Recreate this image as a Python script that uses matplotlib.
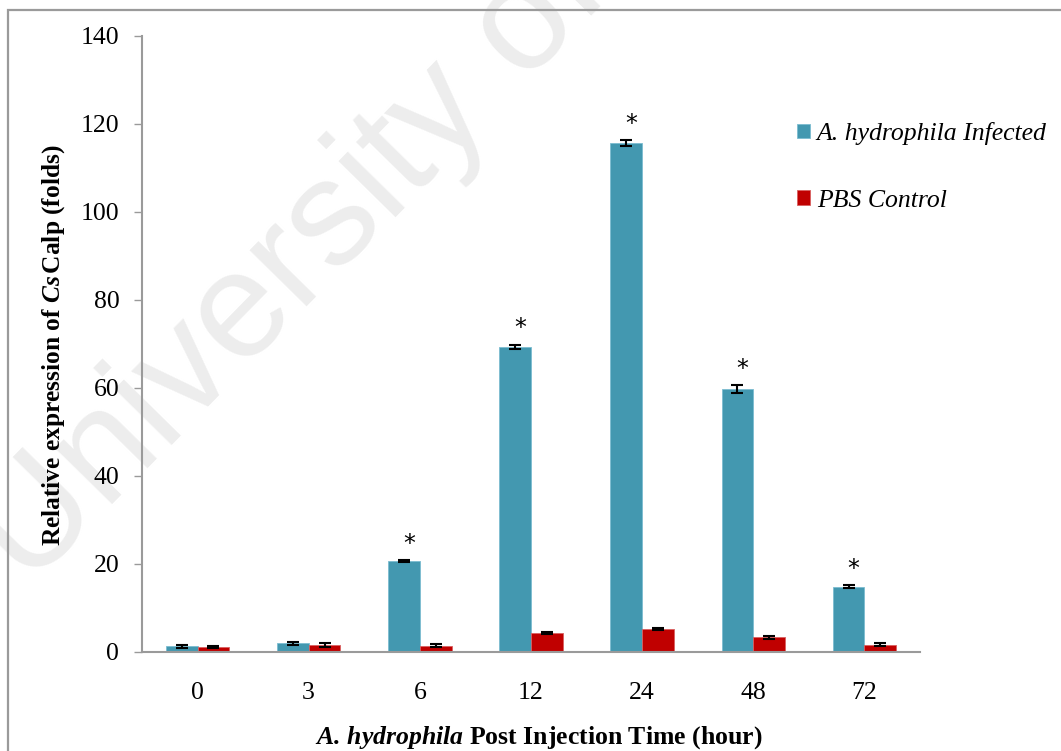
import matplotlib
matplotlib.use("Agg")
import matplotlib.pyplot as plt
from matplotlib.patches import Rectangle
import numpy as np

# data
hours = ["0", "3", "6", "12", "24", "48", "72"]
infected = [1.2, 1.9, 20.6, 69.3, 115.6, 59.7, 14.8]
infected_err = [0.3, 0.3, 0.2, 0.5, 0.6, 0.9, 0.4]
control = [1.1, 1.5, 1.4, 4.2, 5.2, 3.3, 1.6]
control_err = [0.2, 0.4, 0.4, 0.2, 0.3, 0.3, 0.4]
significant = [False, False, True, True, True, True, True]

plt.rcParams['font.family'] = ['Liberation Serif', 'DejaVu Serif']
plt.rcParams['mathtext.fontset'] = 'custom'
plt.rcParams['mathtext.rm'] = 'Liberation Serif'
plt.rcParams['mathtext.it'] = 'Liberation Serif:italic'
plt.rcParams['mathtext.bf'] = 'Liberation Serif:bold'
plt.rcParams['mathtext.bfit'] = 'Liberation Serif:italic:bold'

blue = "#4398B0"
red = "#C00000"
axis_gray = "#9a9a9a"

fig = plt.figure(figsize=(10.61, 7.51), dpi=100)

# faint watermark behind everything
fig.text(0.027, 0.215, "University of", rotation=45.5, rotation_mode='anchor',
         ha='left', va='baseline', fontsize=109, color="#ededed",
         family='Liberation Sans', zorder=-1)

# outer frame (runs off the right and bottom edges in the reference)
fig.add_artist(Rectangle((0.0075, -0.05), 1.2, 0.987 + 0.05, transform=fig.transFigure,
                         fill=False, edgecolor="#9a9a9a", linewidth=1.6, zorder=0.5))

ax = fig.add_axes([0.1338, 0.1322, 0.7333, 0.8203])
ax.patch.set_alpha(0)

x = np.arange(len(hours))
w = 0.285
err_kw = dict(ecolor='black', elinewidth=1.5, capsize=4.3, capthick=1.5)
ax.bar(x - w / 2, infected, w, yerr=infected_err, color=blue, edgecolor="#7bbcd0",
       linewidth=0.6, error_kw=err_kw, label="A. hydrophila Infected", zorder=2)
ax.bar(x + w / 2, control, w, yerr=control_err, color=red, edgecolor="#d86060",
       linewidth=0.6, error_kw=err_kw, label="PBS Control", zorder=2)

for xi, v, e, s in zip(x, infected, infected_err, significant):
    if s:
        ax.annotate("*", (xi - w / 2, v + e), xytext=(3.5, 3), textcoords='offset points',
                    ha='center', va='bottom', fontsize=17, family='DejaVu Sans')

ax.set_xlim(-0.5, len(hours) - 0.5)
ax.set_ylim(0, 140)
ax.set_yticks(range(0, 141, 20))
ax.set_xticks(x)
ax.set_xticklabels(hours)
ax.tick_params(axis='both', labelsize=18.5, colors='black')
ax.tick_params(axis='y', length=5.8, width=1, color=axis_gray, pad=10.5)
ax.tick_params(axis='x', length=0, pad=22)

for side in ['top', 'right']:
    ax.spines[side].set_visible(False)
for side in ['left', 'bottom']:
    ax.spines[side].set_color(axis_gray)
    ax.spines[side].set_linewidth(1.5)

ax.set_ylabel(r"Relative expression of $\mathbfit{Cs}\,$Calp (folds)",
              fontsize=18.3, fontweight='bold')
ax.yaxis.set_label_coords(-0.0965, 0.497)
ax.set_xlabel(r"$\mathbfit{A.}\,\mathbfit{hydrophila}$ Post Injection Time (hour)",
              fontsize=18.5, fontweight='bold')
ax.xaxis.set_label_coords(0.51, -0.117)

leg = fig.legend(loc='upper left', bbox_to_anchor=(0.7293, 0.868), frameon=False,
                 prop={'style': 'italic', 'size': 18.5}, labelspacing=1.73,
                 handlelength=0.5, handleheight=0.5, handletextpad=0.27)

plt.savefig("out.png", dpi=100)
